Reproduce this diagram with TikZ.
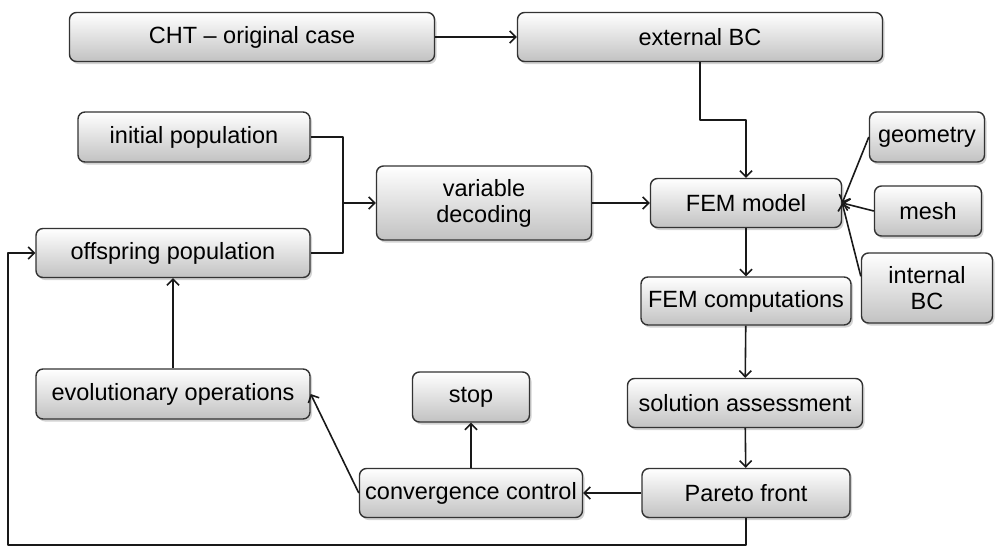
\documentclass[tikz,border=0pt]{standalone}
\usepackage{fontspec}
\setmainfont{Liberation Sans}
\usetikzlibrary{arrows.meta}
\usetikzlibrary{shadows}

\begin{document}
\begin{tikzpicture}[x = 1pt, y = -1pt, line join = round,
  box/.style = {draw = black!80, line width = 1.4pt, rounded corners = 7pt,
    top color = white, bottom color = black!24,
    drop shadow = {opacity = .35, shadow xshift = 2pt, shadow yshift = -2.5pt},
    align = center, inner sep = 0pt, font = \fontsize{23.5}{26}\selectfont},
  wire/.style = {draw = black!90, line width = 1.6pt},
  link/.style = {wire, -{Straight Barb[length = 6pt, width = 12pt]}}]
  \useasboundingbox (0, 0) rectangle (997, 550);

  \node[box, minimum width = 365pt, minimum height = 49pt] (cht) at (252, 37) {CHT – original case};
  \node[box, minimum width = 365pt, minimum height = 49pt] (ext) at (700, 37) {external BC};
  \node[box, minimum width = 232pt, minimum height = 50pt] (init) at (194, 137) {initial population};
  \node[box, minimum width = 274pt, minimum height = 49pt] (off) at (173, 253) {offspring population};
  \node[box, minimum width = 215pt, minimum height = 74pt] (dec) at (484, 203) {variable\\decoding};
  \node[box, minimum width = 191pt, minimum height = 49pt] (fem) at (746, 203) {FEM model};
  \node[box, minimum width = 115pt, minimum height = 50pt] (geom) at (927, 137) {geometry};
  \node[box, minimum width = 107pt, minimum height = 50pt] (mesh) at (928, 211) {mesh};
  \node[box, minimum width = 131pt, minimum height = 70pt] (ibc) at (927, 288) {internal\\BC};
  \node[box, minimum width = 210pt, minimum height = 48pt] (comp) at (746, 301) {FEM computations};
  \node[box, minimum width = 235pt, minimum height = 49pt] (sol) at (745, 403) {solution assessment};
  \node[box, minimum width = 208pt, minimum height = 49pt] (par) at (746, 493) {Pareto front};
  \node[box, minimum width = 223pt, minimum height = 49pt] (conv) at (471, 493) {convergence control};
  \node[box, minimum width = 117pt, minimum height = 50pt] (stop) at (471, 397) {stop};
  \node[box, minimum width = 274pt, minimum height = 50pt] (evo) at (173, 394) {evolutionary operations};

  \coordinate (merge) at (343, 203);
  \coordinate (loop) at (8, 545);

  \draw[link] (cht) -- (ext);
  \draw[link] (ext.south) -- ++(0, 58) -| (fem.north);
  \draw[wire] (init.east) -| (merge);
  \draw[wire] (off.east) -| (merge);
  \draw[link] (merge) -- (dec.west);
  \draw[link] (dec.east) -- (fem.west);
  \draw[link] (geom.west) -- (fem.east);
  \draw[link] (mesh.west) -- (fem.east);
  \draw[link] (ibc.170) -- (fem.east);
  \draw[link] (fem) -- (comp);
  \draw[link] (comp) -- (sol);
  \draw[link] (sol) -- (par);
  \draw[link] (par) -- (conv);
  \draw[link] (conv) -- (stop);
  \draw[link] (conv.west) -- (evo.east);
  \draw[link] (evo) -- (off);
  \draw[link] (par.south) |- (loop) |- (off.west);
\end{tikzpicture}
\end{document}
